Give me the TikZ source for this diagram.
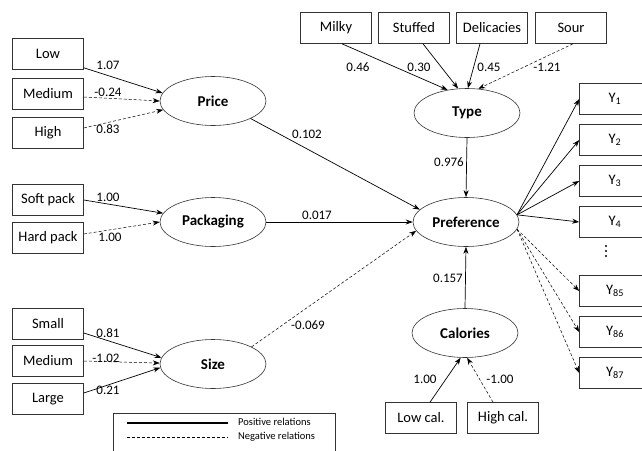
\documentclass[tikz,border=0pt]{standalone}
\usepackage{fontspec}
\setmainfont{Carlito}
\usetikzlibrary{shapes.geometric,arrows.meta,calc}
\tikzset{
  item/.style={draw=black!80,line width=0.6pt,minimum width=71pt,minimum height=31pt,inner sep=0pt,font=\fontsize{14.5}{16}\selectfont},
  latent/.style={draw=black!80,ellipse,line width=0.6pt,minimum width=106pt,minimum height=49pt,inner sep=0pt,font=\fontsize{15}{17}\selectfont\bfseries},
  wt/.style={font=\fontsize{13}{15}\selectfont,inner sep=0pt},
  posrel/.style={->,line width=0.7pt},
  negrel/.style={->,line width=0.5pt,dash pattern=on 3pt off 2pt},
}
\begin{document}
\begin{tikzpicture}[x=1pt,y=-1pt,>={Stealth[length=7pt,width=5pt]}]
    \useasboundingbox (0,0) rectangle (642,450);
    % latent variables
    \node[latent] (price) at (213,101) {Price};
    \node[latent] (pack) at (213,222) {Packaging};
    \node[latent] (size) at (213,364) {Size};
    \node[latent] (type) at (467,113) {Type};
    \node[latent] (pref) at (466,222) {Preference};
    \node[latent] (cal) at (465,333) {Calories};
    % indicators
    \node[item] (low) at (48,54) {Low};
    \node[item] (pmed) at (48,94) {Medium};
    \node[item] (high) at (48,133) {High};
    \node[item] (soft) at (48,200) {Soft pack};
    \node[item] (hard) at (48,238) {Hard pack};
    \node[item] (small) at (48,324) {Small};
    \node[item] (smed) at (48,361) {Medium};
    \node[item] (large) at (48,399) {Large};
    \node[item] (milky) at (336,28) {Milky};
    \node[item] (stuffed) at (414,28) {Stuffed};
    \node[item] (delic) at (492,28) {Delicacies};
    \node[item] (sour) at (571,28) {Sour};
    \node[item] (lowcal) at (421,418) {Low cal.};
    \node[item] (highcal) at (503,418) {High cal.};
    % outcome items
    \node[item] (y1) at (615,99) {Y\textsubscript{1}};
    \node[item] (y2) at (615,140) {Y\textsubscript{2}};
    \node[item] (y3) at (615,181) {Y\textsubscript{3}};
    \node[item] (y4) at (615,222) {Y\textsubscript{4}};
    \foreach \d in {246,251,256}
        \fill (606,\d) circle (1.1pt);
    \node[item] (y85) at (615,291) {Y\textsubscript{85}};
    \node[item] (y86) at (615,332) {Y\textsubscript{86}};
    \node[item] (y87) at (615,373) {Y\textsubscript{87}};

    % price
    \draw[posrel] ([yshift=2pt]low.south east) -- (price.171);
    \draw[negrel] ([yshift=-3pt]pmed.east) -- (price.180);
    \draw[negrel] ([yshift=5pt]high.east) -- (price.190);
    \node[wt] (w1) at (108,65) {1.07};
    \node[wt] (w2) at (108,92) {-0.24};
    \node[wt] (w3) at (108,129) {0.83};
    % packaging
    \draw[posrel] (soft.east) -- (pack.170);
    \draw[negrel] ([yshift=4pt]hard.east) -- (pack.180);
    \node[wt] (w4) at (108,197) {1.00};
    \node[wt] (w5) at (110,237) {1.00};
    % size
    \draw[posrel] ([yshift=-9pt]small.east) -- (size.173);
    \draw[negrel] (smed.east) -- (size.179);
    \draw[posrel] ([yshift=6pt]large.east) -- (size.184);
    \node[wt] (w6) at (108,333) {0.81};
    \node[wt] (w7) at (106,358) {-1.02};
    \node[wt] (w8) at (108,390) {0.21};
    % type
    \draw[posrel] ($(milky.south)+(6,0)$) -- (type.130);
    \draw[posrel] ($(stuffed.south)+(9,0)$) -- (type.110);
    \draw[posrel] ($(delic.south)+(-12,0)$) -- (type.88);
    \draw[negrel] ($(sour.south)+(2,0)$) -- (type.65);
    \node[wt] (w9) at (358,67) {0.46};
    \node[wt] (w10) at (419,67) {0.30};
    \node[wt] (w11) at (489,67) {0.45};
    \node[wt] (w12) at (547,67) {-1.21};
    % calories
    \draw[posrel] ($(lowcal.north)+(9,0)$) -- (cal.-100);
    \draw[negrel] ($(highcal.north)+(-10,0)$) -- (cal.-85);
    \node[wt] (w13) at (425,379) {1.00};
    \node[wt] (w14) at (500,379) {-1.00};
    % structural paths
    \draw[posrel] (price.-25) -- (pref.165);
    \draw[posrel] (pack.east) -- (pref.west);
    \draw[negrel] (size.24) -- (pref.190);
    \draw[posrel] (type.south) -- (pref.north);
    \draw[posrel] (cal.north) -- (pref.south);
    \node[wt] (w15) at (307,134) {0.102};
    \node[wt] (w16) at (317,215) {0.017};
    \node[wt] (w17) at (308,325) {-0.069};
    \node[wt] (w18) at (449,162) {0.976};
    \node[wt] (w19) at (448,278) {0.157};
    % outcomes
    \foreach \y in {y1,y2,y3,y4}
        \draw[posrel] (pref.8) -- (\y.west);
    \foreach \y in {y85,y86,y87}
        \draw[negrel] (pref.-8) -- (\y.west);

    % legend
    \node[draw=black!80,line width=0.6pt,minimum width=222pt,minimum height=44pt,inner sep=0pt] (legend) at (224,435) {};
    \coordinate (ps) at (127,423);
    \coordinate (pe) at (228,423);
    \coordinate (ns) at (127,437);
    \coordinate (ne) at (228,437);
    \draw[line width=1.1pt] (ps) -- (pe);
    \draw[line width=0.5pt,dash pattern=on 3pt off 2pt] (ns) -- (ne);
    \node[anchor=west,inner sep=0pt,font=\fontsize{10.5}{12}\selectfont] (lpos) at (238,422) {Positive relations};
    \node[anchor=west,inner sep=0pt,font=\fontsize{10.5}{12}\selectfont] (lneg) at (238,437) {Negative relations};
\end{tikzpicture}
\end{document}
